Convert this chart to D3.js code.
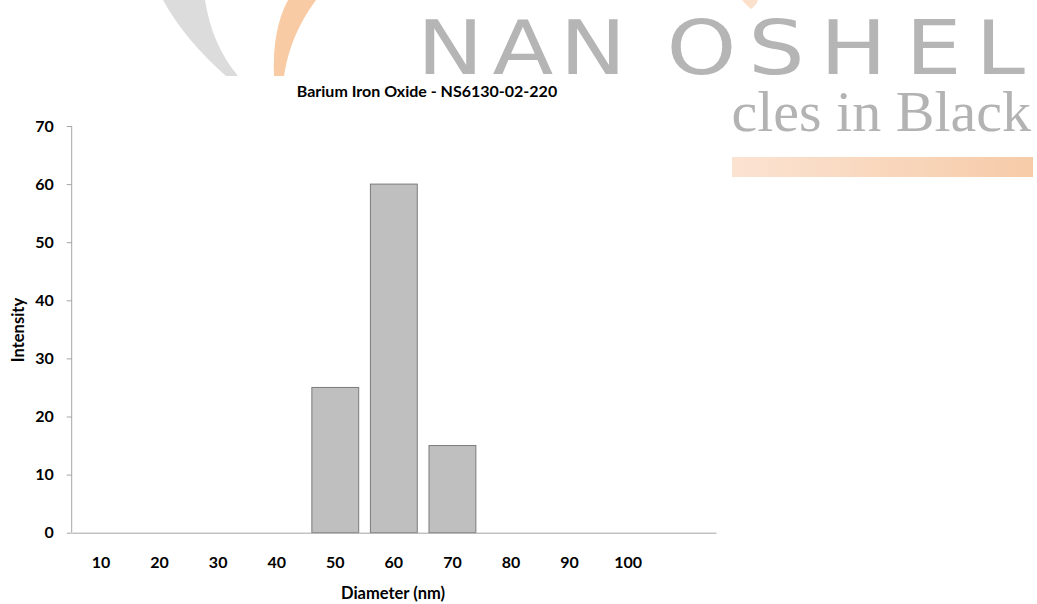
<!DOCTYPE html>
<html>
<head>
<meta charset="utf-8">
<script src="https://cdn.jsdelivr.net/npm/d3@7"></script>
<style>
  html, body { margin: 0; padding: 0; background: #fff; }
  svg { display: block; }
</style>
</head>
<body>
<svg id="chart" width="1037" height="604"></svg>
<script>
// ---- data ----
const title = "Barium Iron Oxide - NS6130-02-220";
const categories = ["10", "20", "30", "40", "50", "60", "70", "80", "90", "100", ""];
const intensity = [0, 0, 0, 0, 25, 60, 15, 0, 0, 0, 0];
const yTicks = [0, 10, 20, 30, 40, 50, 60, 70];
const xAxisTitle = "Diameter (nm)";
const yAxisTitle = "Intensity";

(function () {
const svg = d3.select("#chart");
const W = 1037, H = 604;

// ---- watermark (background logo) ----
const wm = svg.append("g");
const defs = svg.append("defs");
const grad = defs.append("linearGradient").attr("id", "obar").attr("x1", "0").attr("x2", "1");
grad.append("stop").attr("offset", "0").attr("stop-color", "#fbe3d2");
grad.append("stop").attr("offset", "1").attr("stop-color", "#f6cba8");

wm.append("path")
  .attr("d", "M163,0 L205,0 Q212,45 238,76 L226,76 Q185,40 163,0 Z")
  .attr("fill", "#dcdcdc");
wm.append("path")
  .attr("d", "M288,0 L316,0 Q290,35 284,76 L274,76 Q272,30 288,0 Z")
  .attr("fill", "#f8cba4");
wm.append("path")
  .attr("d", "M742,0 L758,0 Q756,6 751,9 Q746,5 742,0 Z")
  .attr("fill", "#fbe0cc");

// logo word, letters placed individually on a horizontally stretched line
const sx = 1.2;
const letterX = [347.5, 410.5, 466.5, 555.5, 623.5, 683.3, 754.5, 813].join(" ");
wm.append("text")
  .attr("transform", `translate(0,74) scale(${sx},1)`)
  .attr("x", letterX).attr("y", 0)
  .attr("font-family", "'DejaVu Sans', sans-serif")
  .attr("font-size", 74)
  .attr("fill", "#b5b5b5")
  .text("NANOSHEL");
wm.append("text")
  .attr("x", 1031).attr("y", 131)
  .attr("text-anchor", "end")
  .attr("font-family", "'Liberation Serif', 'DejaVu Serif', serif")
  .attr("font-size", 58)
  .attr("fill", "#b3b3b3")
  .text("Nanoparticles in Black");
wm.append("rect")
  .attr("x", 732).attr("y", 157).attr("width", 301).attr("height", 20)
  .attr("fill", "url(#obar)");

svg.append("rect").attr("x", 0).attr("y", 76).attr("width", 732).attr("height", H - 76).attr("fill", "#fff");

// ---- chart ----
const pLeft = 71.7, pRight = 716, pTop = 126, pBottom = 532.7;

const x = d3.scaleBand()
  .domain(categories.map((c, i) => i))
  .range([pLeft, pRight])
  .paddingInner(0.2)
  .paddingOuter(0.1);

const y = d3.scaleLinear().domain([0, 70]).range([pBottom, pTop]);

const font = "Lato, 'Open Sans', sans-serif";

svg.append("g")
  .selectAll("rect")
  .data(intensity.map((v, i) => ({ v, i })).filter(d => d.v > 0))
  .join("rect")
  .attr("x", d => x(d.i))
  .attr("y", d => y(d.v))
  .attr("width", x.bandwidth())
  .attr("height", d => y(0) - y(d.v))
  .attr("fill", "#bfbfbf")
  .attr("stroke", "#7a7a7a")
  .attr("stroke-width", 1);

const yAxis = svg.append("g")
  .attr("transform", `translate(${pLeft},0)`)
  .call(d3.axisLeft(y).tickValues(yTicks).tickSize(5).tickPadding(13).tickFormat(d3.format("d")));
yAxis.select(".domain").attr("stroke", "#a6a6a6").attr("d", `M0,${pTop}V${pBottom}`);
yAxis.selectAll(".tick line").attr("stroke", "#a6a6a6");
yAxis.selectAll(".tick text")
  .attr("font-family", font).attr("font-weight", "bold").attr("font-size", 16).attr("fill", "#000");

const xAxis = svg.append("g")
  .attr("transform", `translate(0,${pBottom})`)
  .call(d3.axisBottom(x).tickSize(0).tickPadding(24).tickFormat(i => categories[i]));
xAxis.select(".domain").attr("stroke", "#a6a6a6");
xAxis.selectAll(".tick text")
  .attr("font-family", font).attr("font-weight", "bold").attr("font-size", 16).attr("fill", "#000");

svg.append("text")
  .attr("x", 427).attr("y", 97)
  .attr("text-anchor", "middle")
  .attr("font-family", font).attr("font-weight", "bold").attr("font-size", 16)
  .attr("fill", "#000")
  .text(title);

svg.append("text")
  .attr("x", 393).attr("y", 599)
  .attr("text-anchor", "middle")
  .attr("font-family", font).attr("font-weight", "bold").attr("font-size", 16.5)
  .attr("fill", "#000")
  .text(xAxisTitle);

svg.append("text")
  .attr("transform", "translate(24,330) rotate(-90)")
  .attr("text-anchor", "middle")
  .attr("font-family", font).attr("font-weight", "bold").attr("font-size", 16.5)
  .attr("fill", "#000")
  .text(yAxisTitle);
})();
</script>
</body>
</html>
